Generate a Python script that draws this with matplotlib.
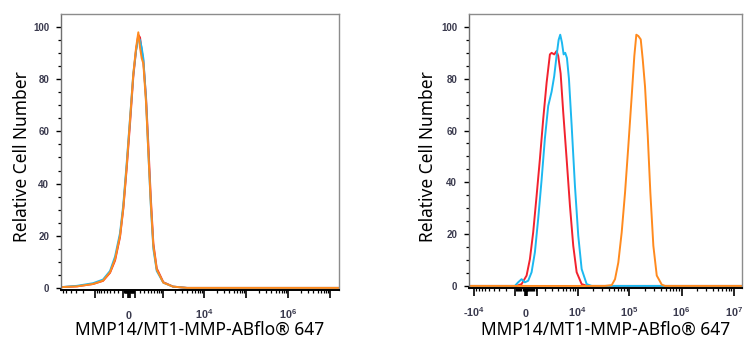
import numpy as np
import matplotlib
matplotlib.use("Agg")
import matplotlib.pyplot as plt
from matplotlib.ticker import FixedLocator, FixedFormatter

plt.rcParams["mathtext.fontset"] = "custom"
plt.rcParams["mathtext.rm"] = "Liberation Sans:bold"
plt.rcParams["mathtext.it"] = "Liberation Sans:bold"
plt.rcParams["mathtext.bf"] = "Liberation Sans:bold"

# ---- Left panel: isotype / unstained controls (fluorescence intensity vs relative count)
left_intensity = [-6700, -2800, -1146, -637, -403, -274, -167, -103, -41, 18, 77,
                  128, 173, 208, 245, 282, 349, 412, 485, 574, 707, 1041, 1799,
                  3900, 1.6e7]
left_red = [0.3, 0.6, 1.5, 2.7, 5.8, 10.5, 19.5, 30.5, 46, 63, 81, 91, 97, 96,
            91, 87, 73, 55, 35, 17, 7.5, 2.2, 0.5, 0, 0]
left_blue = [0.3, 0.8, 1.8, 3.2, 6.5, 12, 21, 32, 48, 65, 82, 91, 96, 95, 92,
             88, 72, 52, 32, 15, 6.5, 2, 0.5, 0, 0]
left_orange = [0.3, 0.6, 1.5, 2.8, 6, 11, 20, 31, 47, 64.5, 82, 92, 98, 92, 88,
               86, 71, 52, 33, 16, 7, 2, 0.5, 0, 0]

# ---- Right panel: stained samples
red_intensity = [-12600, -869, -393, 64, 365, 674, 1008, 1354, 1728, 2154, 2612,
                 2869, 3294, 3725, 4038, 4546, 5151, 6045, 7044, 8199, 9567,
                 11985, 15420, 1.45e7]
red_count = [0, 0, 0.7, 4, 10.3, 20.7, 34.8, 49, 64.4, 78.5, 89.4, 90, 89.4,
             90.7, 88.8, 82, 67, 49, 31, 15.5, 5.3, 0.7, 0, 0]

blue_intensity = [-12600, -1039, -713, -393, -91, 209, 523, 839, 1173, 1543, 1935,
                  2369, 2869, 3294, 3725, 4120, 4457, 4838, 5248, 5660, 6132,
                  6728, 7619, 8858, 10287, 11985, 15000, 18740, 1.45e7]
blue_count = [0, 0, 1.4, 2.6, 1.4, 2, 5.3, 13, 26, 41, 57, 69.5, 75, 81, 89, 95,
              97, 94, 89.4, 90, 88, 80, 62, 38.6, 19.4, 6.5, 0.7, 0, 0]

orange_intensity = [-12600, 33850, 45600, 52770, 61030, 70930, 82200, 95080,
                    110500, 124000, 135500, 148100, 164600, 179800, 199000,
                    224500, 251900, 287600, 334400, 417200, 482800, 1.45e7]
orange_count = [0, 0, 0.3, 2.6, 9, 20.7, 36, 54, 73.4, 88.8, 97, 96.5, 95.2,
                87.5, 77, 58, 36, 15.5, 4, 0.5, 0, 0]

# Axis settings
left_xlim = (-6760, 1.62e7)
right_xlim = (-12600, 1.45e7)
left_labels = {0: "0", 1e4: "$10^{4}$", 1e6: "$10^{6}$"}
right_labels = {-1e4: "-$10^{4}$", 0: "0", 1e4: "$10^{4}$", 1e5: "$10^{5}$",
                1e6: "$10^{6}$", 1e7: "$10^{7}$"}

RED = "#f2222e"
BLUE = "#1cb8f0"
ORANGE = "#ff8a1e"
TICK_COLOR = "#3a3a4e"

fig = plt.figure(figsize=(7.56, 3.5), dpi=100)
ax_l = fig.add_axes([61 / 756, 60 / 350, 278 / 756, 276 / 350])
ax_r = fig.add_axes([469 / 756, 62 / 350, 273 / 756, 274 / 350])


def style_axis(ax, xlim, linear_width, labels):
    ax.set_xscale("asinh", linear_width=linear_width)
    ax.set_xlim(*xlim)
    ax.set_ylim(-0.8, 105)

    majors = [0.0]
    minors = []
    for n in range(1, 8):
        for k in range(1, 10):
            for s in (1, -1):
                v = s * k * 10.0 ** n
                if xlim[0] <= v <= xlim[1]:
                    (majors if k == 1 else minors).append(v)
    majors = sorted(majors)
    ax.xaxis.set_major_locator(FixedLocator(majors))
    ax.xaxis.set_major_formatter(FixedFormatter([labels.get(v, "") for v in majors]))
    ax.xaxis.set_minor_locator(FixedLocator(sorted(minors)))

    ax.set_yticks([0, 20, 40, 60, 80, 100])
    ax.set_yticks(np.arange(5, 105, 5), minor=True)

    ax.tick_params(axis="x", which="major", direction="out", length=5.5,
                   width=1.2, color="black", pad=15.5, labelsize=7.8,
                   labelcolor=TICK_COLOR)
    ax.tick_params(axis="x", which="minor", direction="out", length=2.5,
                   width=0.9, color="black")
    ax.tick_params(axis="y", which="major", direction="out", length=3.5,
                   width=1.0, color="black", pad=5, labelsize=7,
                   labelcolor=TICK_COLOR)
    ax.tick_params(axis="y", which="minor", direction="out", length=2.5,
                   width=0.9, color="black")
    for lab in ax.get_xticklabels():
        lab.set_verticalalignment("baseline")
        lab.set_fontweight("bold")
        lab.set_family("Liberation Sans")
    for lab in ax.get_yticklabels():
        lab.set_fontweight("bold")
        lab.set_family("Liberation Sans")

    ax.spines["top"].set_color("#8c8c8c")
    ax.spines["right"].set_color("#8c8c8c")
    ax.spines["left"].set_color("#707070")
    ax.spines["bottom"].set_color("black")
    ax.spines["bottom"].set_linewidth(1.4)
    for s in ("top", "right", "left"):
        ax.spines[s].set_linewidth(1.0)

    ax.set_xlabel("MMP14/MT1-MMP-ABflo® 647", family="Noto Sans", fontsize=12.5)
    ax.set_ylabel("Relative Cell Number", family="Noto Sans", fontsize=12.5)
    ax.xaxis.label.set_verticalalignment("baseline")
    ax.yaxis.label.set_verticalalignment("center")


style_axis(ax_l, left_xlim, 325, left_labels)
style_axis(ax_r, right_xlim, 2050, right_labels)

lw = 1.4
ax_l.plot(left_intensity, left_red, color=RED, lw=lw)
ax_l.plot(left_intensity, left_blue, color=BLUE, lw=lw)
ax_l.plot(left_intensity, left_orange, color=ORANGE, lw=lw)

ax_r.plot(red_intensity, red_count, color=RED, lw=lw)
ax_r.plot(blue_intensity, blue_count, color=BLUE, lw=lw)
ax_r.plot(orange_intensity, orange_count, color=ORANGE, lw=lw)

ax_l.xaxis.set_label_coords(0.5, (276 - 45) / 276 - 1)
ax_l.yaxis.set_label_coords((22 - 61) / 278, (290 - 156.5) / 276)
ax_r.xaxis.set_label_coords(0.5, (274 - 47) / 274 - 1)
ax_r.yaxis.set_label_coords((428 - 469) / 273, (288 - 156.5) / 274)

fig.savefig("out.png", dpi=100, facecolor="white")
